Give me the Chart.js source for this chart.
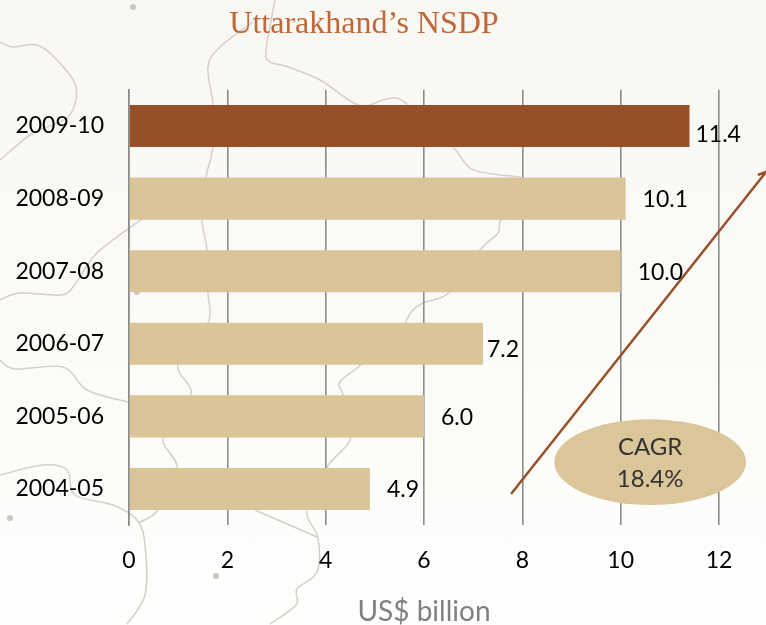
<!DOCTYPE html>
<html>
<head>
<meta charset="utf-8">
<style>
html,body{margin:0;padding:0;width:766px;height:625px;overflow:hidden;background:linear-gradient(#f9f7f2,#fbfaf6 45%,#fefefd);}
#decor,#chart{position:absolute;left:0;top:0;}
</style>
<script src="https://cdn.jsdelivr.net/npm/chart.js@4"></script>
</head>
<body>
<svg id="decor" width="766" height="625" viewBox="0 0 766 625"></svg>
<canvas id="chart" width="766" height="625"></canvas>
<script>
// ---- data ----
const categories = ['2009-10','2008-09','2007-08','2006-07','2005-06','2004-05'];
const nsdpValues = [11.4,10.1,10.0,7.2,6.0,4.9];
const valueLabels = ['11.4','10.1','10.0','7.2','6.0','4.9'];
const xTicks = [0,2,4,6,8,10,12];
const cagrLabel = ['CAGR','18.4%'];
// trend arrow (start, tip, small head stroke) and oval in data units
// (x: US$ billion, y: category bands from the bottom)
const trendX = [7.77,12.96,12.79];
const trendY = [0.43,4.87,4.825];
const ovalCentre = [10.6,0.87];
const ovalRadius = [1.95,0.59];

// ---- styles ----
const barColors = ['#964f27','#d9c598','#d9c598','#d9c598','#d9c598','#d9c598'];
const labelGap = [6,17,17,4,17,17];
const labelDrop = [9,1,1,6,1,1];
const FONT = 'Lato';

// ---- faint map outlines behind the chart (decoration only) ----
const decorLines = [
 [[0,42],[13,47],[37,45],[57,60],[76,87],[68,117],[33,133],[0,160]],
 [[275,0],[266,50],[270,62],[285,66],[320,80],[358,105],[383,100],[396,98],[408,105],[430,130],[453,147],[470,168],[493,174],[521,177]],
 [[521,219],[501,220],[498,233],[480,250],[450,292],[423,303],[411,312],[400,330],[362,364],[340,382],[343,395],[351,437],[327,467],[307,510],[318,538],[317,572],[297,589],[296,605],[270,624]],
 [[253,22],[220,47],[208,67],[213,105],[213,147],[206,177],[202,219],[207,250],[208,293],[208,323],[178,364],[191,395],[163,437],[177,468],[158,510],[138,523]],
 [[142,219],[97,253],[73,287],[60,295],[20,293],[0,300]],
 [[0,360],[15,369],[63,367],[87,390],[128,402]],
 [[0,475],[43,465],[67,470],[75,495],[113,505],[137,520],[145,545],[145,595],[127,624]],
 [[255,510],[317,537]]
];
const decorDots = [[133,7],[137,292],[10,518],[216,576]];
const svg = document.getElementById('decor');
const NS = 'http://www.w3.org/2000/svg';
decorLines.forEach(p => {
  let d = 'M' + p[0][0] + ' ' + p[0][1];
  for (let i = 0; i < p.length - 1; i++) {
    const a = p[Math.max(i-1,0)], b = p[i], c = p[i+1], e = p[Math.min(i+2,p.length-1)];
    d += ' C' + (b[0]+(c[0]-a[0])/6) + ' ' + (b[1]+(c[1]-a[1])/6) + ' ' + (c[0]-(e[0]-b[0])/6) + ' ' + (c[1]-(e[1]-b[1])/6) + ' ' + c[0] + ' ' + c[1];
  }
  const el = document.createElementNS(NS,'path');
  el.setAttribute('d',d);
  el.setAttribute('fill','none');
  el.setAttribute('stroke','#d2d0c9');
  el.setAttribute('stroke-width','1.5');
  svg.appendChild(el);
});
decorDots.forEach(p => {
  const el = document.createElementNS(NS,'circle');
  el.setAttribute('cx',p[0]); el.setAttribute('cy',p[1]); el.setAttribute('r','3');
  el.setAttribute('fill','#c9c8c0');
  svg.appendChild(el);
});

// ---- plugin: value labels, CAGR oval ----
const annotations = {
  id:'annotations',
  afterDatasetsDraw(chart){
    const ctx = chart.ctx, x = chart.scales.x, y = chart.scales.y, yc = chart.scales.yTrend;
    ctx.save();
    ctx.fillStyle = '#000';
    ctx.font = '23px ' + FONT;
    ctx.textAlign = 'left';
    ctx.textBaseline = 'middle';
    nsdpValues.forEach((v,i) => {
      ctx.fillText(valueLabels[i], x.getPixelForValue(v) + labelGap[i], y.getPixelForValue(i) + labelDrop[i]);
    });
    const cx = x.getPixelForValue(ovalCentre[0]), cy = yc.getPixelForValue(ovalCentre[1]);
    const rx = x.getPixelForValue(ovalCentre[0]+ovalRadius[0]) - cx;
    const ry = cy - yc.getPixelForValue(ovalCentre[1]+ovalRadius[1]);
    ctx.fillStyle = '#dac698';
    ctx.beginPath();
    ctx.ellipse(cx,cy,rx,ry,0,0,Math.PI*2);
    ctx.fill();
    ctx.fillStyle = '#333';
    ctx.font = '24px ' + FONT;
    ctx.textAlign = 'center';
    ctx.fillText(cagrLabel[0],cx,cy-15);
    ctx.fillText(cagrLabel[1],cx,cy+17);
    ctx.restore();
  }
};

new Chart(document.getElementById('chart'),{
  type:'bar',
  plugins:[annotations],
  data:{
    labels:categories,
    datasets:[
      {
        type:'bar',
        data:nsdpValues,
        backgroundColor:barColors,
        grouped:false,
        barPercentage:0.58,
        categoryPercentage:1,
        yAxisID:'y',
        xAxisID:'x',
        order:2
      },
      {
        type:'line',
        indexAxis:'y',
        data:trendX.map((v,i) => ({x:v,y:trendY[i]})),
        borderColor:'#97512a',
        borderWidth:2.5,
        pointRadius:0,
        clip:false,
        yAxisID:'yTrend',
        xAxisID:'x',
        order:1
      }
    ]
  },
  options:{
    indexAxis:'y',
    responsive:false,
    animation:false,
    layout:{padding:{left:9,right:47,top:0,bottom:0}},
    plugins:{
      legend:{display:false},
      tooltip:{enabled:false},
      title:{
        display:true,
        text:'Uttarakhand\u2019s NSDP',
        color:'#c0673a',
        font:{family:'Liberation Serif',size:32,weight:'normal',lineHeight:1.2},
        padding:{top:5,bottom:46.3}
      }
    },
    scales:{
      x:{
        type:'linear',
        min:0,max:12,
        afterBuildTicks(s){ s.ticks = xTicks.map(v => ({value:v})); },
        afterFit(s){ s.height = 99.7; },
        grid:{color:'#8c8c8c',lineWidth:1.6,drawTicks:false},
        border:{display:false},
        ticks:{color:'#000',font:{family:FONT,size:23},padding:21,maxRotation:0},
        title:{display:true,text:'US$ billion',color:'#808080',font:{family:FONT,size:28},padding:{top:21,bottom:-4}}
      },
      y:{
        type:'category',
        offset:true,
        afterFit(s){ s.width = 120; },
        grid:{display:false},
        border:{color:'#8c8c8c',width:1.6},
        ticks:{color:'#000',font:{family:FONT,size:23},padding:17,autoSkip:false}
      },
      yTrend:{type:'linear',min:0,max:6,display:false,offset:false}
    }
  }
});
</script>
</body>
</html>
